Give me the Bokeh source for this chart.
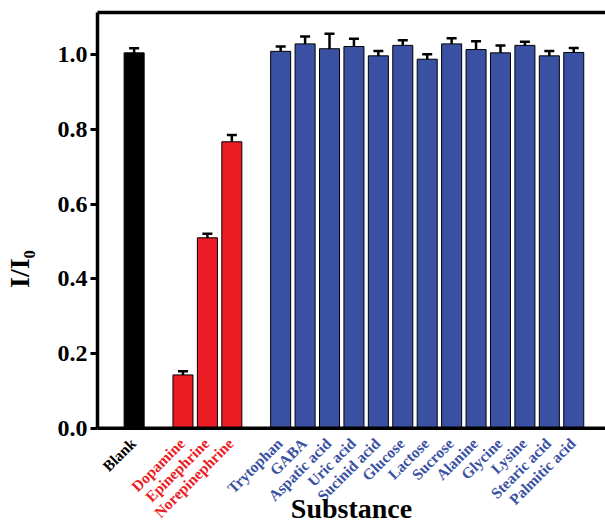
from bokeh.plotting import figure
from bokeh.models import (ColumnDataSource, Whisker, TeeHead, LinearAxis,
                          Range1d, FixedTicker, Span, NumeralTickFormatter)
from bokeh.core.properties import value
from bokeh.embed import file_html
from bokeh.resources import INLINE
import math

# ---- data ----
blank_names = ["Blank"]
blank_values = [1.005]
blank_errors = [0.012]

cat_names = ["Dopamine", "Epinephrine", "Norepinephrine"]
cat_values = [0.143, 0.510, 0.767]
cat_errors = [0.010, 0.011, 0.018]

other_names = ["Trytophan", "GABA", "Aspatic acid", "Uric acid", "Sucinid acid",
               "Glucose", "Lactose", "Sucrose", "Alanine", "Glycine", "Lysine",
               "Stearic acid", "Palmitic acid"]
other_values = [1.009, 1.029, 1.016, 1.022, 0.997, 1.025, 0.988, 1.029, 1.014,
                1.005, 1.025, 0.997, 1.006]
other_errors = [0.013, 0.020, 0.040, 0.021, 0.013, 0.014, 0.013, 0.015, 0.022,
                0.020, 0.010, 0.013, 0.012]

group_colors = ["#000000", "#ec1c24", "#3a51a3"]
y_ticks = [0.0, 0.2, 0.4, 0.6, 0.8, 1.0]
x_title = "Substance"
y_title = "I/I₀"

# ---- build positions (one empty slot between groups) ----
groups = [(blank_names, blank_values, blank_errors),
          (cat_names, cat_values, cat_errors),
          (other_names, other_values, other_errors)]
xs, names, vals, errs, colors = [], [], [], [], []
pos = 0
for gi, (n, v, e) in enumerate(groups):
    for k in range(len(n)):
        xs.append(pos)
        names.append(n[k])
        vals.append(v[k])
        errs.append(e[k])
        colors.append(group_colors[gi])
        pos += 1
    pos += 1

Y_TOP = 1.113
Y_BOT = -0.26
X_LO, X_HI = -1.5, xs[-1] + 1.3

src = ColumnDataSource(dict(
    x=xs, name=names, top=vals, color=colors,
    upper=[v + e for v, e in zip(vals, errs)],
    lower=[v - e for v, e in zip(vals, errs)],
    ly=[-0.033] * len(xs),
))

FONT = "Liberation Serif"

p = figure(width=605, height=525, output_backend="svg", toolbar_location=None,
           x_range=Range1d(X_LO, X_HI), y_range=Range1d(Y_BOT, Y_TOP),
           x_axis_location=None,
           min_border_left=97, min_border_right=0, min_border_top=12,
           min_border_bottom=0)
p.outline_line_color = None
p.grid.grid_line_color = None
p.background_fill_color = "white"

p.vbar(x="x", top="top", width=0.82, bottom=0, source=src,
       fill_color="color", line_color="black", line_width=1)

head = TeeHead(size=10, line_width=2.5, line_color="black")
head2 = TeeHead(size=10, line_width=2.5, line_color="black")
p.add_layout(Whisker(source=src, base="x", upper="upper", lower="lower",
                     line_width=2.5, line_color="black",
                     upper_head=head, lower_head=head2))

# x axis line at y = 0
p.add_layout(Span(location=0, dimension="width", line_color="black",
                  line_width=3.5))

# y axis
ya = p.yaxis[0]
ya.ticker = FixedTicker(ticks=y_ticks)
ya.bounds = (0, Y_TOP)
ya.formatter = NumeralTickFormatter(format="0.0")
ya.axis_label = y_title
ya.axis_label_text_font = FONT
ya.axis_label_text_font_style = "bold"
ya.axis_label_text_font_size = "28px"
ya.axis_label_text_color = "black"
ya.axis_label_standoff = 20
ya.major_label_text_font = FONT
ya.major_label_text_font_style = "bold"
ya.major_label_text_font_size = "24px"
ya.major_label_text_color = "black"
ya.axis_line_width = 3.5
ya.major_tick_line_width = 3
ya.major_tick_in = 0
ya.major_tick_out = 7
ya.minor_tick_line_color = None
ya.major_label_standoff = 3

# top border
ta = LinearAxis(ticker=FixedTicker(ticks=[]), major_label_text_font_size="0px",
                major_tick_line_color=None, minor_tick_line_color=None,
                axis_line_width=3.5)
p.add_layout(ta, "above")

# category labels (coloured per group)
p.text(x="x", y="ly", text="name", source=src, angle=math.pi / 4,
       text_align="right", text_baseline="middle", x_offset=-1,
       text_color="color", text_font=value(FONT), text_font_style="bold",
       text_font_size="15.5px")

# x title
p.text(x=[(X_LO + X_HI) / 2], y=[-0.214], text=[x_title], text_align="center",
       text_baseline="middle", text_color="black", text_font=value(FONT),
       text_font_style="bold", text_font_size="28px")

open("out.html", "w").write(file_html(p, INLINE))
